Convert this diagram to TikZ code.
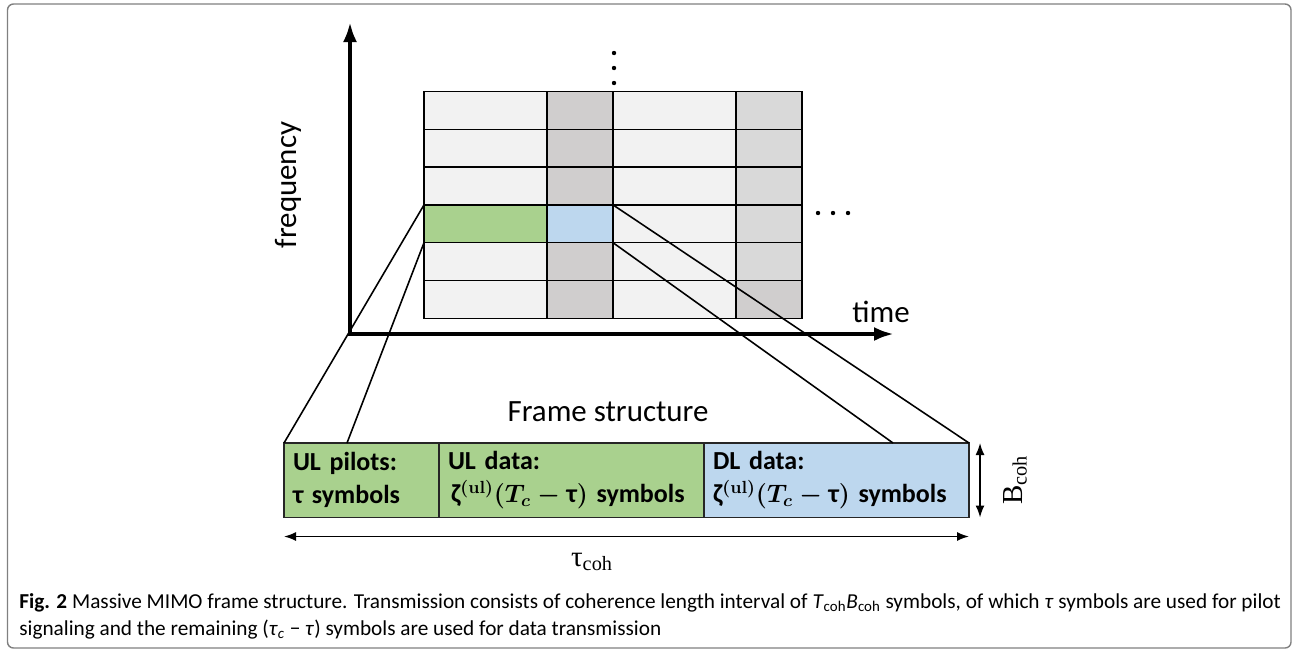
\documentclass[tikz,border=0pt]{standalone}
\usepackage{fontspec}
\setmainfont{Carlito}
\newfontfamily\grserif{Liberation Serif}
\usetikzlibrary{arrows.meta,positioning,calc}

\definecolor{cellgray}{HTML}{F2F2F2}
\definecolor{pilotcol}{HTML}{D0CECE}
\definecolor{lastcol}{HTML}{D9D9D9}
\definecolor{ulgreen}{HTML}{A9D18E}
\definecolor{dlblue}{HTML}{BDD7EE}
\definecolor{framegray}{HTML}{808080}

\begin{document}
\begin{tikzpicture}[
        x=0.2mm, y=-0.2mm,
        >=Latex,
        axis/.style={line width=2.3pt, {Latex[length=4mm,width=2.8mm]}-{Latex[length=4mm,width=2.8mm]}},
        gridline/.style={draw=black, line width=0.8pt},
        cell/.style={rectangle, draw=black, line width=0.8pt, anchor=north west, minimum height=7.56mm, inner sep=0pt, outer sep=0pt},
        zoomline/.style={line width=0.9pt},
        slot/.style={rectangle, draw=black!85, line width=0.9pt, anchor=north west, minimum height=14.9mm, inner xsep=1.8mm, inner ysep=0pt, outer sep=0pt, align=left, font=\fontsize{14.8}{18.6}\selectfont\bfseries},
        axislabel/.style={font=\fontsize{17.6}{21}\selectfont},
        dim/.style={<->, line width=0.9pt, >={Latex[length=2.4mm,width=1.8mm]}},
        dimlabel/.style={font=\grserif\fontsize{16.5}{20}\selectfont}
    ]
        \useasboundingbox (0,0) rectangle (1294,653);
        \draw[framegray, line width=0.8pt, rounded corners=1.2mm] (7.5,4) rectangle (1291,648);

        % time-frequency grid
        \fill[cellgray] (424,91.5) rectangle (802,318.3);
        \fill[pilotcol] (547,91.5) rectangle (613,318.3);
        \fill[lastcol] (736,91.5) rectangle (802,280.5);
        \fill[pilotcol] (736,280.5) rectangle (802,318.3);
        \foreach \y in {129.3,167.1,204.9,242.7,280.5}
            \draw[gridline] (424,\y) -- (802,\y);
        \foreach \x in {547,613,736}
            \draw[gridline] (\x,91.5) -- (\x,318.3);
        \draw[gridline] (424,91.5) rectangle (802,318.3);
        \foreach \y in {53,68,83}
            \fill (614,\y) circle (2.2);
        \foreach \x in {818,833,848}
            \fill (\x,213) circle (2.2);

        \node[cell, fill=ulgreen, minimum width=24.6mm] (ulcell) at (424,204.9) {};
        \node[cell, fill=dlblue, minimum width=13.2mm, right=0pt of ulcell] (dlcell) {};

        % axes
        \coordinate (origin) at (350,334);
        \coordinate (fmax) at (350,22);
        \coordinate (tmax) at (894,334);
        \draw[axis] (fmax) -- (origin) -- (tmax);
        \node[axislabel, rotate=90] (freqlab) at (288,185) {frequency};
        \node[axislabel] (timelab) at (881,312) {time};

        % frame structure
        \node[axislabel] (framelab) at (608,412) {Frame structure};
        \node[slot, fill=ulgreen, text width=27.4mm] (ulp) at (284,443) {UL pilots:\\τ symbols};
        \node[slot, fill=ulgreen, text width=49.4mm, right=0pt of ulp] (uld)
            {UL data:\\\hspace{0.6mm}ζ{\boldmath$^{(\mathbf{ul})}(T_c-{}$}τ{\boldmath$)$} symbols};
        \node[slot, fill=dlblue, text width=49.4mm, right=0pt of uld] (dld)
            {DL data:\\ζ{\boldmath$^{(\mathbf{ul})}(T_c-{}$}τ{\boldmath$)$} symbols};

        \coordinate (pilotfoot) at (347,443);
        \coordinate (dlfoot) at (893,443);
        \draw[zoomline] (ulcell.north west) -- (ulp.north west);
        \draw[zoomline] (ulcell.south west) -- (pilotfoot);
        \draw[zoomline] (dlcell.north east) -- (dld.north east);
        \draw[zoomline] (dlcell.south east) -- (dlfoot);

        \draw[dim] ($(ulp.south west)+(0,19)$) -- ($(dld.south east)+(0,19)$);
        \node[dimlabel] (taucoh) at (592,562) {τ\textsubscript{coh}};
        \draw[dim] ($(dld.north east)+(11,0)$) -- ($(dld.south east)+(11,0)$);
        \node[dimlabel, rotate=90] (bcoh) at (1015,480) {B\textsubscript{coh}};

        % caption
        \node[anchor=north west, align=left, inner sep=0pt, font=\fontsize{12.1}{15.6}\selectfont] (caption) at (19,593)
            {\textbf{Fig. 2} Massive MIMO frame structure. Transmission consists of coherence length interval of \textit{T}\textsubscript{coh}\textit{B}\textsubscript{coh} symbols, of which \textit{τ} symbols are used for pilot\\
            signaling and the remaining (\textit{τ}\textsubscript{\textit{c}} − \textit{τ}) symbols are used for data transmission};
    \end{tikzpicture}
\end{document}
